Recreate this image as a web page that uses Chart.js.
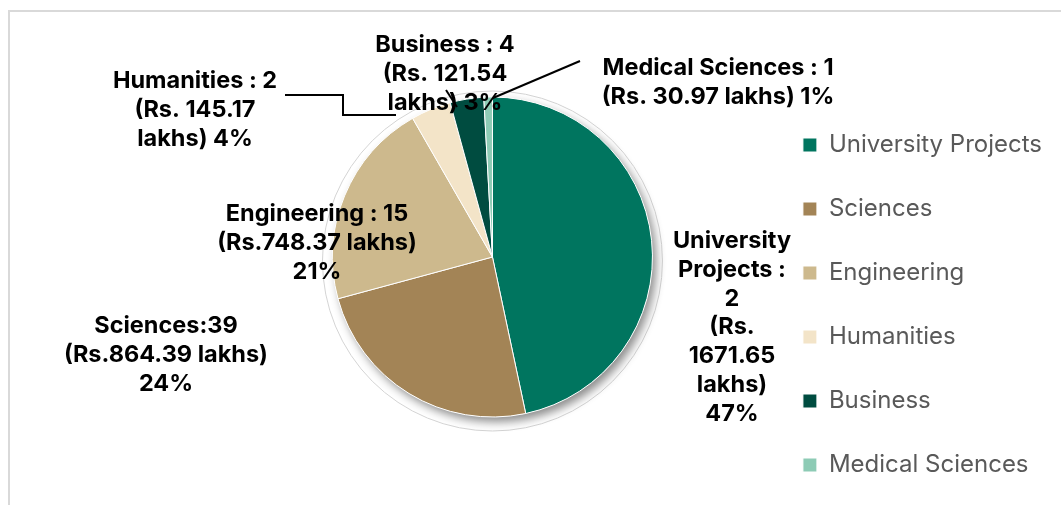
<!DOCTYPE html>
<html>
<head>
<meta charset="utf-8">
<script src="https://cdn.jsdelivr.net/npm/chart.js@4"></script>
<style>
  html, body { margin: 0; padding: 0; background: #fff; overflow: hidden; }
  #wrap { position: relative; width: 1061px; height: 505px; }
  #frame { position: absolute; left: 8px; top: 10px; width: 1100px; height: 600px; border: 2px solid #d9d9d9; }
  #grafica { position: absolute; left: 0; top: 0; }
</style>
</head>
<body>
<div id="wrap">
  <div id="frame"></div>
  <canvas id="grafica" width="1061" height="505"></canvas>
</div>
<script>
// datos
var categorias = ['University Projects', 'Sciences', 'Engineering', 'Humanities', 'Business', 'Medical Sciences'];
var montos = [1671.65, 864.39, 748.37, 145.17, 121.54, 30.97]; // Rs. lakhs
var proyectos = [2, 39, 15, 2, 4, 1];
var colores = ['#00755f', '#a38456', '#cdb98d', '#f3e4c8', '#004c40', '#8dcbb5'];

// texto de las etiquetas ({p} = porcentaje)
var etiquetas = [
  ['University', 'Projects :', '2', '(Rs.', '1671.65', 'lakhs)', '{p}'],
  ['Sciences:39', '(Rs.864.39 lakhs)', '{p}'],
  ['Engineering : 15', '(Rs.748.37 lakhs)', '{p}'],
  ['Humanities : 2', '(Rs. 145.17', 'lakhs) {p}'],
  ['Business : 4', '(Rs. 121.54', 'lakhs) {p}'],
  ['Medical Sciences : 1', '(Rs. 30.97 lakhs) {p}']
];

// posicion de cada etiqueta (centro de la primera linea) y lineas guia
var posEtiquetas = [[732, 241], [166, 326], [317, 214], [195, 81], [445, 45], [718, 68]];
var guias = [
  null, null, null,
  [[285, 95], [343, 95], [343, 115], [396, 115]],
  [[446, 90], [457, 107]],
  [[580, 61], [493, 98]]
];

var total = montos.reduce(function(a, b) { return a + b; }, 0);

var sombraPie = {
  id: 'sombraPie',
  beforeDatasetsDraw: function(chart) {
    var arc = chart.getDatasetMeta(0).data[0];
    var ctx = chart.ctx;
    ctx.save();
    ctx.beginPath();
    ctx.arc(arc.x, arc.y + 4, arc.outerRadius + 10, 0, Math.PI * 2);
    ctx.fillStyle = '#ffffff';
    ctx.fill();
    ctx.strokeStyle = '#d4d4d4';
    ctx.lineWidth = 1;
    ctx.stroke();
    ctx.beginPath();
    ctx.arc(arc.x, arc.y, arc.outerRadius, 0, Math.PI * 2);
    ctx.shadowColor = 'rgba(0,0,0,0.45)';
    ctx.shadowBlur = 10;
    ctx.shadowOffsetX = 4;
    ctx.shadowOffsetY = 5;
    ctx.fillStyle = '#ffffff';
    ctx.fill();
    ctx.restore();
  }
};

var etiquetasPlugin = {
  id: 'etiquetasPlugin',
  afterDatasetsDraw: function(chart) {
    var ctx = chart.ctx;
    ctx.save();
    ctx.strokeStyle = '#000';
    ctx.lineWidth = 2;
    guias.forEach(function(g) {
      if (!g) return;
      ctx.beginPath();
      ctx.moveTo(g[0][0], g[0][1]);
      for (var k = 1; k < g.length; k++) ctx.lineTo(g[k][0], g[k][1]);
      ctx.stroke();
    });
    ctx.fillStyle = '#000';
    ctx.font = 'bold 23.5px Inter';
    ctx.textAlign = 'center';
    ctx.textBaseline = 'middle';
    etiquetas.forEach(function(lineas, i) {
      var p = Math.round(montos[i] / total * 100) + '%';
      lineas.forEach(function(t, j) {
        ctx.fillText(t.replace('{p}', p), posEtiquetas[i][0], posEtiquetas[i][1] + j * 28.8);
      });
    });
    ctx.restore();
  }
};

// mover la leyenda hacia abajo
var moverLeyenda = {
  id: 'moverLeyenda',
  afterLayout: function(chart) {
    chart.legend.top += 48;
    chart.legend.bottom += 48;
  }
};

var ctx1 = document.getElementById('grafica').getContext('2d');
var miGrafica = new Chart(ctx1, {
  type: 'pie',
  data: {
    labels: categorias,
    datasets: [{
      data: montos,
      backgroundColor: colores,
      borderColor: '#ffffff',
      borderWidth: 1
    }]
  },
  options: {
    responsive: false,
    animation: false,
    radius: 160,
    layout: { padding: { left: 222, right: 9, top: 14, bottom: 5 } },
    plugins: {
      tooltip: { enabled: false },
      legend: {
        position: 'right',
        labels: {
          boxWidth: 14,
          boxHeight: 14,
          padding: 40,
          color: '#595959',
          font: { family: 'Inter', size: 24 }
        }
      }
    }
  },
  plugins: [sombraPie, etiquetasPlugin, moverLeyenda]
});
</script>
</body>
</html>
